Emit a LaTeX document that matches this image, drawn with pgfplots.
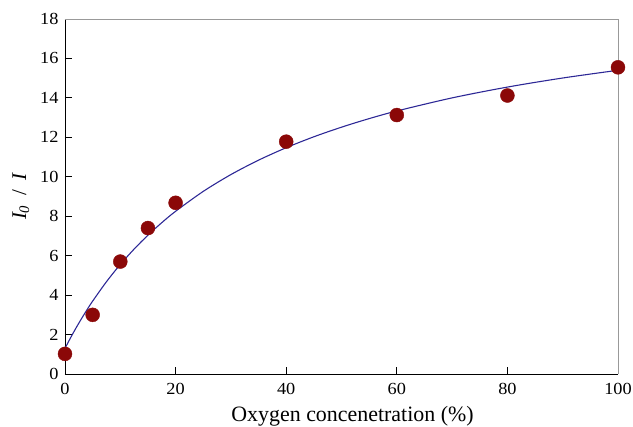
\documentclass[border=0pt]{standalone}
\usepackage{pgfplots}
\pgfplotsset{compat=1.18}
\usepackage{fontspec}
\setmainfont{Liberation Serif}
\newfontfamily\tickfont[FakeStretch=1.08]{Liberation Serif}

\definecolor{dotred}{RGB}{139,8,8}
\definecolor{fitblue}{RGB}{45,40,150}

\begin{document}
\begin{tikzpicture}[x=1bp,y=1bp]
\useasboundingbox (-65bp,-53bp) rectangle (568bp,374bp);
\begin{axis}[
  at={(0,0)}, anchor=south west,
  scale only axis,
  width=553bp, height=355bp,
  xmin=0, xmax=100, ymin=0, ymax=18,
  xtick={0,20,40,60,80,100},
  ytick={0,2,4,6,8,10,12,14,16,18},
  axis x line*=bottom, axis y line*=left,
  axis line style={-, black, line width=0.8pt},
  tick align=inside,
  major tick length=7bp,
  tick style={black, line width=0.8pt},
  /pgf/number format/assume math mode=true,
  ticklabel style={font=\tickfont\fontsize{17}{19}\selectfont},
  xticklabel style={yshift=-6bp},
  yticklabel style={xshift=-3bp},
  xlabel={Oxygen concenetration (\%)},
  ylabel={\textit{I\textsubscript{0}}\;\,/\;\,\textit{I}},
  xlabel style={font=\fontsize{22}{24}\selectfont, yshift=-5bp, xshift=11bp},
  ylabel style={font=\fontsize{21}{24}\selectfont, yshift=4bp},
  clip=false,
]
% frame on the top and right
\draw[gray!80, line width=0.7pt] (rel axis cs:0,1) -- (rel axis cs:1,1) -- (rel axis cs:1,0);

% fitted curve
\addplot[fitblue, line width=1.1pt, smooth] coordinates {
  (0,1.300) (1,1.833) (2,2.337) (3,2.813) (4,3.266) (5,3.695)
  (7.5,4.680) (10,5.554) (12.5,6.335) (15,7.038) (17.5,7.673)
  (20,8.250) (25,9.259) (30,10.112) (35,10.842) (40,11.474)
  (45,12.028) (50,12.515) (55,12.949) (60,13.336) (70,14.000)
  (80,14.548) (90,15.008) (100,15.400)
};

% measured points
\addplot[only marks, mark=*, mark size=7bp, dotred, mark options={draw=dotred, fill=dotred}] coordinates {
  (0,1.02) (5,3.00) (10,5.70) (15,7.40) (20,8.68)
  (40,11.78) (60,13.13) (80,14.12) (100,15.55)
};
\end{axis}
\end{tikzpicture}
\end{document}
